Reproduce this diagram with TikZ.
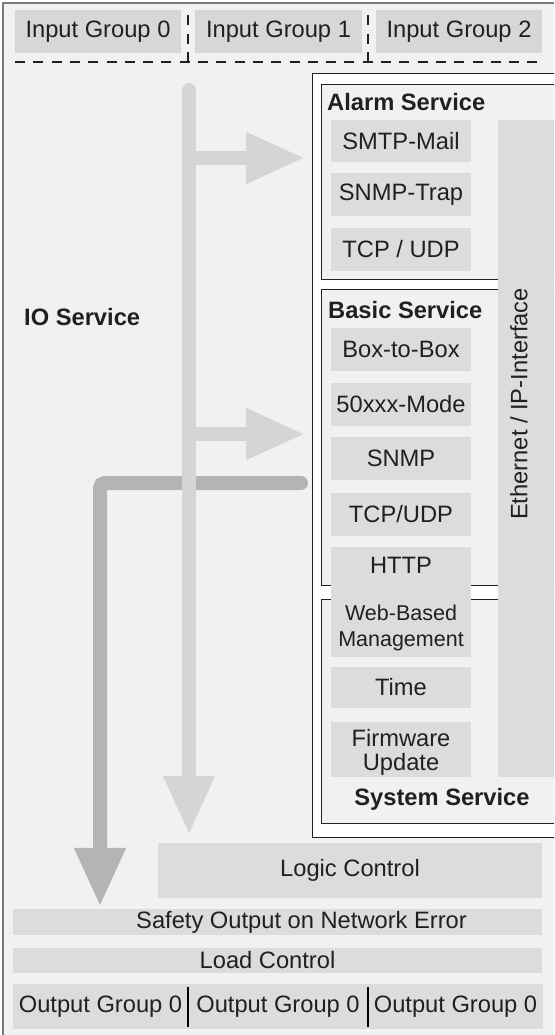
\documentclass[tikz,border=0pt]{standalone}
\usepackage{fontspec}
\setmainfont{Liberation Sans}
\usetikzlibrary{arrows.meta, positioning}
\definecolor{panelbg}{RGB}{241,241,241}
\definecolor{cellgray}{RGB}{220,220,221}
\definecolor{ingray}{RGB}{215,215,216}
\definecolor{flowlight}{RGB}{212,213,215}
\definecolor{flowdark}{RGB}{180,180,181}
\definecolor{framegray}{RGB}{120,120,120}
\definecolor{inkgray}{RGB}{35,31,32}
\newcommand{\diagsz}{\fontsize{23.7pt}{24pt}\selectfont}
\newcommand{\websz}{\fontsize{21.5pt}{26pt}\selectfont}

\begin{document}
\begin{tikzpicture}[x=1pt, y=-1pt,
  svccell/.style={fill=cellgray, inner sep=0pt, minimum width=140pt, text=inkgray, font=\diagsz, align=center},
  groupcell/.style={fill=ingray, inner sep=0pt, minimum height=43pt, text=inkgray, font=\diagsz},
  barcell/.style={fill=cellgray, inner sep=0pt, text=inkgray, font=\diagsz},
  bartext/.style={text=inkgray, font=\diagsz, inner sep=0pt},
  servicebox/.style={draw=inkgray, line width=0.9pt, fill=panelbg, inner sep=0pt, anchor=north west},
  heading/.style={font=\diagsz\bfseries, text=inkgray, inner sep=0pt},
  groupsep/.style={draw=inkgray, line width=2.3pt, dash pattern=on 10pt off 8.3pt},
  outsep/.style={draw=black, line width=2pt},
  lightflow/.style={draw=flowlight, line width=14pt, line cap=round,
    -{Triangle[length=59pt 0 0, width=48pt 0 0]}},
  darkflow/.style={draw=flowdark, line width=14pt, line cap=round, rounded corners=5pt,
    -{Triangle[length=59pt 0 0, width=48pt 0 0]}},
]
  \useasboundingbox (0,0) rectangle (554,1035);
  \clip (0,0) rectangle (554,1035);

  % Frame
  \draw[framegray, fill=panelbg, line width=1.2pt] (3,3) rectangle (590,1050);

  % Input groups
  \node[groupcell, minimum width=166pt] (in0) at (98,31.5) {Input Group 0};
  \node[groupcell, minimum width=167pt] (in1) at (278.5,31.5) {Input Group 1};
  \node[groupcell, minimum width=166pt] (in2) at (459,31.5) {Input Group 2};
  \draw[groupsep] (15,62) -- (542,62);
  \draw[groupsep] (188,62) -- (188,12);
  \draw[groupsep] (368,62) -- (368,12);

  % Services
  \node[servicebox, fill=white, minimum width=280pt, minimum height=764pt] (svcarea) at (312,73) {};
  \node[servicebox, minimum width=270pt, minimum height=195pt] (alarm) at (321,84) {};
  \node[servicebox, minimum width=270pt, minimum height=296pt] (basic) at (321,289) {};
  \node[servicebox, minimum width=270pt, minimum height=224pt] (system) at (321,599) {};

  \node[svccell, minimum height=42pt] (smtp) at (401,141) {SMTP-Mail};
  \node[svccell, minimum height=43pt] (trap) at (401,194.5) {SNMP-Trap};
  \node[svccell, minimum height=43pt] (alarmtcp) at (401,249.5) {TCP / UDP};
  \node[svccell, minimum height=43pt] (b2b) at (401,349.5) {Box-to-Box};
  \node[svccell, minimum height=43pt] (mode) at (401,404.5) {50xxx-Mode};
  \node[svccell, minimum height=43pt] (snmp) at (401,458.5) {SNMP};
  \node[svccell, minimum height=43pt] (tcpudp) at (401,514.5) {TCP/UDP};
  \node[svccell, minimum height=37pt] (http) at (401,565.5) {HTTP};
  \node[svccell, minimum height=73pt] (web) at (401,620.5) {};
  \node[bartext, align=center, font=\websz] (webtext) at ([yshift=-7pt]web.center) {Web-Based\\Management};
  \node[svccell, minimum height=41pt] (time) at (401,687.5) {Time};
  \node[svccell, minimum height=55pt] (fw) at (401,749.5) {};
  \node[bartext, align=center] (fwtext) at ([yshift=-3pt]fw.center) {Firmware\\Update};

  % Ethernet column
  \node[barcell, anchor=north west, minimum width=80pt, minimum height=657pt] (ethcol) at (498,120) {};
  \node[bartext, rotate=90] (ethtext) at (519,404) {Ethernet / IP-Interface};

  \node[heading, anchor=west] (alarmhead) at (327,102) {Alarm Service};
  \node[heading, anchor=west] (basichead) at (328,310) {Basic Service};
  \node[heading] (systemhead) at (442,799) {System Service};
  \node[heading, anchor=west] (iohead) at (24,317) {IO Service};

  % Output side
  \node[barcell, minimum width=384pt, minimum height=55pt] (logic) at (350,870.5) {Logic Control};
  \node[barcell, minimum width=529pt, minimum height=26pt] (safety) at (277.5,922) {};
  \node[bartext] (safetytext) at ([xshift=24pt]safety.center) {Safety Output on Network Error};
  \node[barcell, minimum width=529pt, minimum height=25pt] (load) at (277.5,960.5) {};
  \node[bartext] (loadtext) at ([xshift=-10pt]load.center) {Load Control};
  \node[barcell, minimum width=175pt, minimum height=45pt] (out0) at (100.5,1006.5) {Output Group 0};
  \node[barcell, minimum width=180pt, minimum height=45pt] (out1) at (278,1006.5) {Output Group 0};
  \node[barcell, minimum width=175pt, minimum height=45pt] (out2) at (455.5,1006.5) {Output Group 0};
  \draw[outsep] ([yshift=-3pt]out0.north east) -- ([yshift=2pt]out0.south east);
  \draw[outsep] ([yshift=-3pt]out1.north east) -- ([yshift=2pt]out1.south east);

  % Flows
  \coordinate (ioin) at (189,90);
  \coordinate (alarmtap) at (189,158);
  \coordinate (basictap) at (189,434);
  \coordinate (retstart) at (301,483);
  \coordinate (retbend) at (100,483);

  \draw[darkflow, shorten >=2pt] (retstart) -- (retbend) -- (retbend |- safety.north);
  \draw[lightflow, shorten >=8pt] (ioin) -- (ioin |- logic.north);
  \draw[lightflow, shorten >=7pt] (alarmtap) -- (alarmtap -| svcarea.west);
  \draw[lightflow, shorten >=7pt] (basictap) -- (basictap -| svcarea.west);
\end{tikzpicture}
\end{document}
